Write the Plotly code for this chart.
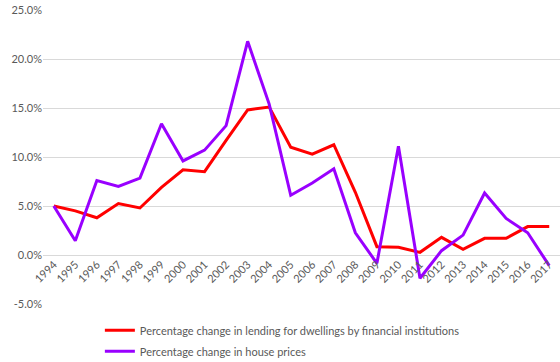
import plotly.graph_objects as go

years = [str(y) for y in range(1994, 2018)]
lending_change = [5.0, 4.5, 3.8, 5.25, 4.8, 6.9, 8.7, 8.5, 11.7, 14.8, 15.1, 11.0,
                  10.3, 11.25, 6.4, 0.85, 0.78, 0.27, 1.8, 0.58, 1.7, 1.7, 2.9, 2.9]
house_price_change = [5.0, 1.45, 7.6, 7.0, 7.85, 13.4, 9.6, 10.7, 13.2, 21.8, 15.4, 6.1,
                      7.35, 8.8, 2.27, -0.85, 11.1, -2.37, 0.44, 2.03, 6.33, 3.73, 2.27, -1.09]
y_tick_vals = [-5, 0, 5, 10, 15, 20, 25]
y_tick_text = ["-5.0%", "0.0%", "5.0%", "10.0%", "15.0%", "20.0%", "25.0%"]

FONT = "Lato, 'Liberation Sans', sans-serif"
GREY = "#595959"

fig = go.Figure()
fig.add_trace(go.Scatter(
    x=years, y=lending_change, mode="lines",
    name="Percentage change in lending for dwellings by financial institutions",
    line=dict(color="#FF0000", width=3), legendgroup="a"))
fig.add_trace(go.Scatter(
    x=years, y=house_price_change, mode="lines",
    name="Percentage change in house prices",
    line=dict(color="#9900FF", width=3), legendgroup="b"))

fig.update_layout(
    width=560, height=362,
    margin=dict(l=43, r=0, t=10, b=58, autoexpand=False),
    paper_bgcolor="white", plot_bgcolor="white",
    font=dict(family=FONT, size=11, color=GREY),
    showlegend=True,
    legend=dict(orientation="v", x=0.11, xanchor="left", y=-0.04, yanchor="top",
                font=dict(size=11, color=GREY), traceorder="grouped",
                tracegroupgap=2, bgcolor="rgba(0,0,0,0)"),
    xaxis=dict(type="category", range=[-0.5, 23.5], showgrid=False,
               showline=False, zeroline=False, ticks="", tickangle=-45,
               anchor="free", position=1/6, tickfont=dict(size=11, color=GREY)),
    yaxis=dict(range=[-5, 25], tickvals=y_tick_vals, ticktext=y_tick_text,
               showgrid=True, gridcolor="#D9D9D9", gridwidth=1,
               zeroline=False, showline=False, ticks="",
               tickfont=dict(size=11, color=GREY)),
)

fig.write_html("out.html", config={"displayModeBar": False},
               post_script="document.body.style.margin='0';document.body.style.overflow='hidden';")
